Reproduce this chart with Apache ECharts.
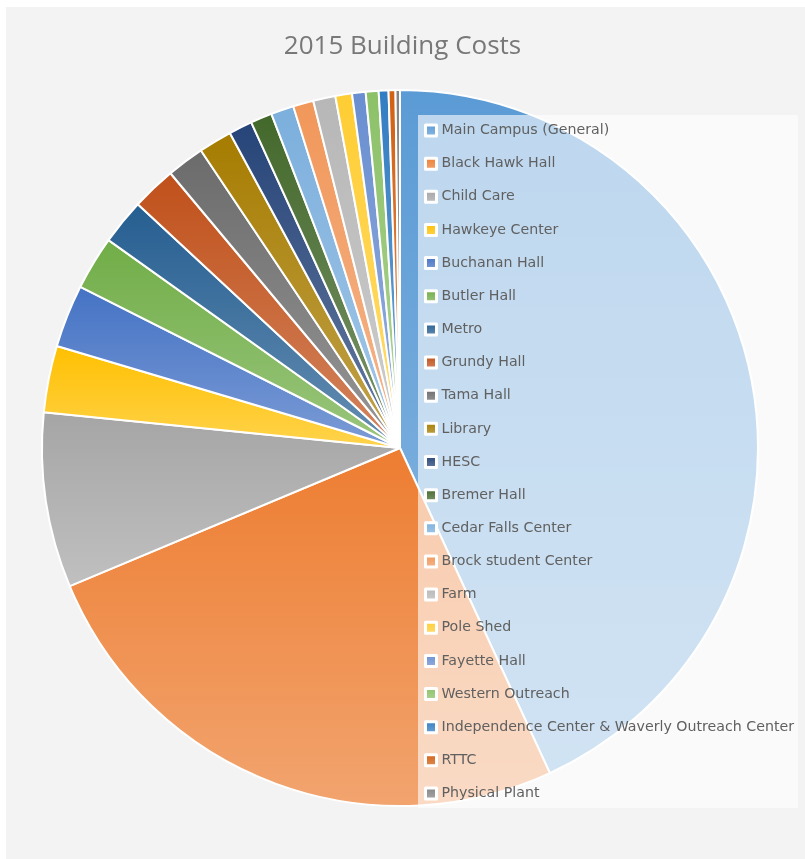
<!DOCTYPE html>
<html>
<head>
<meta charset="utf-8">
<script src="https://cdn.jsdelivr.net/npm/echarts@6/dist/echarts.min.js"></script>
<style>
  html, body { margin: 0; padding: 0; background: #ffffff; }
  #bg { position: absolute; left: 6px; top: 7px; width: 799px; height: 852px; background: #f3f3f3; }
  #chart { position: absolute; left: 0; top: 0; width: 805px; height: 859px; }
</style>
</head>
<body>
<div id="bg"></div>
<div id="chart"></div>
<script>
const titleText = '2015 Building Costs';
const buildings = [
  'Main Campus (General)', 'Black Hawk Hall', 'Child Care', 'Hawkeye Center',
  'Buchanan Hall', 'Butler Hall', 'Metro', 'Grundy Hall', 'Tama Hall', 'Library',
  'HESC', 'Bremer Hall', 'Cedar Falls Center', 'Brock student Center', 'Farm',
  'Pole Shed', 'Fayette Hall', 'Western Outreach',
  'Independence Center & Waverly Outreach Center', 'RTTC', 'Physical Plant'
];
const costShare = [
  43.06, 25.53, 7.89, 3.00, 2.83, 2.42, 2.06, 2.00, 1.69, 1.50,
  1.06, 0.97, 1.03, 0.92, 1.00, 0.75, 0.61, 0.58, 0.44, 0.31, 0.20
];
const sliceColors = [
  '#5B9BD5', '#ED7D31', '#A5A5A5', '#FFC000', '#4472C4', '#70AD47',
  '#255E91', '#C0501A', '#6B6B6B', '#A67C00', '#264478', '#43682B',
  '#7CAFDD', '#F1975A', '#B7B7B7', '#FFCD33', '#698ED0', '#8CC168',
  '#327DC2', '#D26012', '#848484'
];

function lighten(hex, t) {
  const n = parseInt(hex.slice(1), 16);
  const r = (n >> 16) & 255, g = (n >> 8) & 255, b = n & 255;
  const m = c => Math.round(c + (255 - c) * t);
  return 'rgb(' + m(r) + ',' + m(g) + ',' + m(b) + ')';
}

const chart = echarts.init(document.getElementById('chart'), null, { renderer: 'canvas' });
chart.setOption({
  animation: false,
  backgroundColor: 'transparent',
  title: {
    text: titleText,
    left: 'center',
    top: 29,
    textStyle: { fontFamily: 'Open Sans', fontSize: 26, fontWeight: 'normal', color: '#787878' }
  },
  legend: {
    orient: 'vertical',
    left: 418,
    top: 115,
    padding: [8, 4, 7, 6],
    itemGap: 18.15,
    itemWidth: 11,
    itemHeight: 11,
    icon: 'rect',
    backgroundColor: 'rgba(255,255,255,0.6)',
    itemStyle: { borderColor: '#ffffff', borderWidth: 3 },
    textStyle: { fontFamily: 'DejaVu Sans', fontSize: 14.2, color: '#606060', lineHeight: 15 },
    data: buildings,
    selectedMode: false
  },
  series: [{
    type: 'pie',
    center: [400, 448],
    radius: 358,
    startAngle: 90,
    clockwise: true,
    label: { show: false },
    labelLine: { show: false },
    emphasis: { disabled: true },
    itemStyle: { borderColor: '#ffffff', borderWidth: 2 },
    data: buildings.map((name, i) => ({
      name: name,
      value: costShare[i],
      itemStyle: {
        color: new echarts.graphic.LinearGradient(0, 0, 0, 1, [
          { offset: 0, color: sliceColors[i] },
          { offset: 1, color: lighten(sliceColors[i], 0.3) }
        ])
      }
    }))
  }]
});
</script>
</body>
</html>
